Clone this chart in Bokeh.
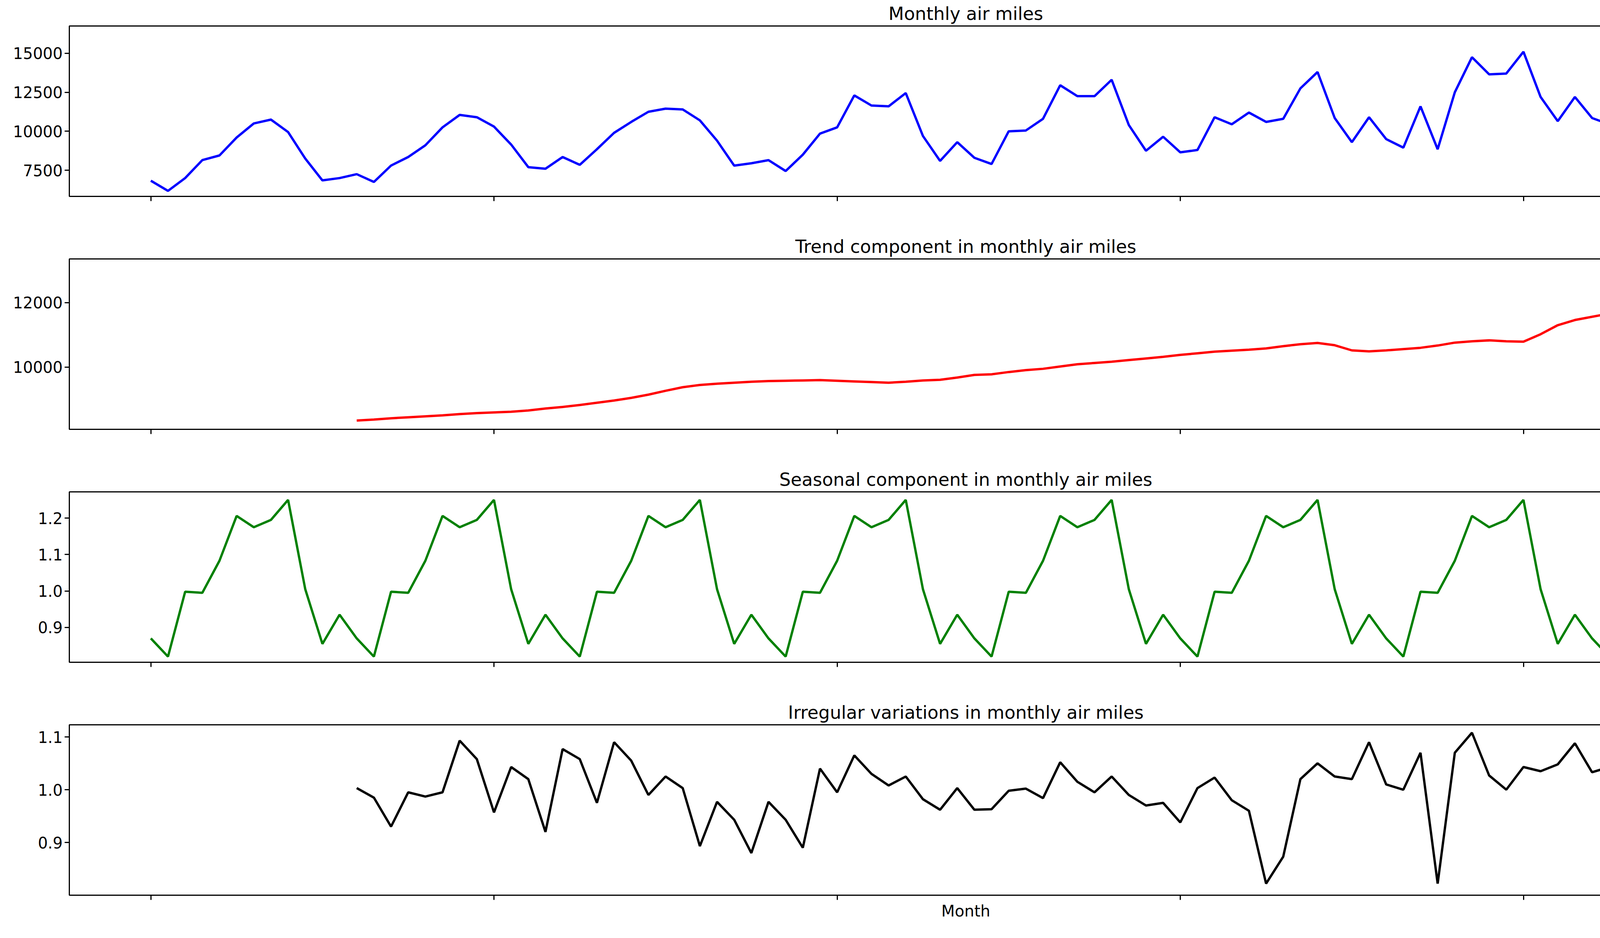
from bokeh.plotting import figure
from bokeh.layouts import column
from bokeh.models import Range1d, FixedTicker, NumeralTickFormatter, CustomJSTickFormatter
from bokeh.embed import file_html
from bokeh.resources import INLINE

# data
months = list(range(96))
air_miles = [6830, 6180, 7000, 8150, 8450, 9600, 10500, 10750, 9950, 8250, 6850, 7000,
             7250, 6750, 7800, 8350, 9100, 10250, 11050, 10900, 10300, 9150, 7700, 7600,
             8350, 7850, 8850, 9900, 10600, 11250, 11450, 11400, 10700, 9400, 7800, 7950,
             8150, 7450, 8500, 9850, 10250, 12300, 11650, 11600, 12450, 9700, 8100, 9300,
             8300, 7900, 10000, 10050, 10800, 12950, 12250, 12250, 13300, 10400, 8750, 9650,
             8650, 8800, 10900, 10450, 11200, 10600, 10800, 12750, 13800, 10850, 9300, 10900,
             9500, 8950, 11600, 8850, 12500, 14750, 13650, 13700, 15100, 12200, 10650, 12200,
             10850, 10450, 13600, 13400, 13100, 14900, 14150, 14050, 16200, 12400, 11600, 12800]

trend_months = list(range(12, 96))
trend = [8350, 8380, 8420, 8450, 8480, 8510, 8550, 8580, 8600, 8620, 8660, 8720,
         8770, 8830, 8900, 8970, 9050, 9150, 9270, 9380, 9450, 9490, 9520, 9550,
         9570, 9580, 9590, 9600, 9580, 9560, 9540, 9520, 9550, 9590, 9610, 9680,
         9760, 9780, 9850, 9910, 9950, 10020, 10090, 10130, 10170, 10220, 10270, 10320,
         10380, 10430, 10480, 10510, 10540, 10580, 10650, 10710, 10750, 10680, 10520, 10490,
         10520, 10560, 10600, 10670, 10760, 10800, 10830, 10800, 10790, 11020, 11300, 11460,
         11560, 11660, 11760, 11860, 11960, 12060, 12170, 12300, 12560, 12760, 12790, 12820,
         12850, 12900, 12950, 13000, 13050, 13100][:84]

season_pattern = [0.87, 0.82, 0.998, 0.995, 1.083, 1.206, 1.175, 1.195, 1.25, 1.005, 0.855, 0.935]
seasonal = [season_pattern[m % 12] for m in months]

irregular = [1.003, 0.985, 0.93, 0.995, 0.987, 0.995, 1.093, 1.058, 0.957, 1.043, 1.02, 0.92,
             1.077, 1.058, 0.975, 1.09, 1.055, 0.99, 1.025, 1.003, 0.893, 0.977, 0.943, 0.88,
             0.977, 0.943, 0.89, 1.04, 0.995, 1.065, 1.03, 1.008, 1.025, 0.982, 0.962, 1.003,
             0.962, 0.963, 0.998, 1.002, 0.984, 1.052, 1.015, 0.995, 1.025, 0.99, 0.97, 0.975,
             0.938, 1.003, 1.023, 0.98, 0.96, 0.822, 0.873, 1.02, 1.05, 1.025, 1.02, 1.09,
             1.01, 1.0, 1.07, 0.822, 1.07, 1.108, 1.027, 1.0, 1.043, 1.035, 1.048, 1.088,
             1.033, 1.043, 1.108, 1.072, 0.948, 0.965, 0.938, 0.915, 1.005, 0.95, 1.035, 1.04]

x_range = Range1d(-4.75, 99.75)


def panel(title, xs, ys, color, yr, ticks, fmt, last=False):
    p = figure(width=4784, height=596 if not last else 600, x_range=x_range, y_range=Range1d(*yr),
               title=title, output_backend="svg", toolbar_location=None,
               min_border_left=177, min_border_right=17, min_border_top=27,
               min_border_bottom=94 if not last else 98)
    p.line(xs, ys, color=color, line_width=6)
    p.title.align = "center"
    p.title.text_font = "DejaVu Sans"
    p.title.text_font_size = "46px"
    p.title.text_font_style = "normal"
    p.title.text_color = "black"
    p.xgrid.visible = False
    p.ygrid.visible = False
    p.outline_line_color = "black"
    p.outline_line_width = 3
    for ax in (p.xaxis, p.yaxis):
        ax.major_tick_in = 0
        ax.major_tick_out = 12
        ax.major_tick_line_width = 3
        ax.minor_tick_line_color = None
        ax.axis_line_color = None
        ax.major_label_text_font = "DejaVu Sans"
        ax.major_label_text_font_size = "40px"
        ax.major_label_text_color = "black"
    p.xaxis.ticker = FixedTicker(ticks=[0, 20, 40, 60, 80])
    p.xaxis.formatter = CustomJSTickFormatter(code="return '';")
    p.yaxis.ticker = FixedTicker(ticks=ticks)
    p.yaxis.formatter = NumeralTickFormatter(format=fmt)
    if last:
        p.xaxis.axis_label = "Month"
        p.xaxis.axis_label_text_font = "DejaVu Sans"
        p.xaxis.axis_label_text_font_size = "40px"
        p.xaxis.axis_label_text_font_style = "normal"
        p.xaxis.axis_label_text_color = "black"
    return p


p1 = panel("Monthly air miles", months, air_miles, "blue", (5825, 16750),
           [7500, 10000, 12500, 15000], "0")
p2 = panel("Trend component in monthly air miles", trend_months, trend, "red", (8077, 13350),
           [10000, 12000], "0")
p3 = panel("Seasonal component in monthly air miles", months, seasonal, "green", (0.8045, 1.272),
           [0.9, 1.0, 1.1, 1.2], "0.0")
p4 = panel("Irregular variations in monthly air miles", trend_months, irregular, "black", (0.8, 1.123),
           [0.9, 1.0, 1.1], "0.0", last=True)

p = column(p1, p2, p3, p4)
open("out.html", "w").write(file_html(p, INLINE))
